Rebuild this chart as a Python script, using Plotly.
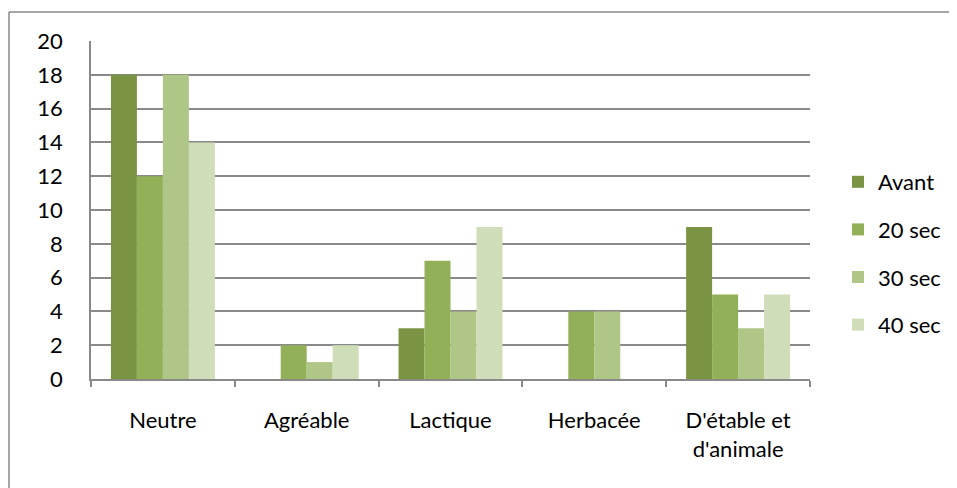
import plotly.graph_objects as go

categories = ["Neutre", "Agréable", "Lactique", "Herbacée", "D'étable et<br>d'animale"]
series_names = ["Avant", "20 sec", "30 sec", "40 sec"]
avant = [18, 0, 3, 0, 9]
sec20 = [12, 2, 7, 4, 5]
sec30 = [18, 1, 4, 4, 3]
sec40 = [14, 2, 9, 0, 5]
y_ticks = [0, 2, 4, 6, 8, 10, 12, 14, 16, 18, 20]

colors = ["#7A9443", "#92B057", "#AFC686", "#CFDDB9"]
values = [avant, sec20, sec30, sec40]

fig = go.Figure()
for i, (name, vals) in enumerate(zip(series_names, values)):
    fig.add_trace(go.Bar(
        x=categories, y=vals, name=name, marker_color=colors[i],
        marker_line_width=0, legendgroup=name,
    ))

# page body has an 8px margin: work in figure coordinates = screen - 8
OFF = 8
L, R, T, B = 91 - OFF, 810 - OFF, 41 - OFF, 379 - OFF
W, H = 957 - OFF, 488 - OFF
fig.update_layout(
    width=W, height=H,
    margin=dict(l=L, r=W - R, t=T, b=H - B, pad=0, autoexpand=False),
    paper_bgcolor="white", plot_bgcolor="white",
    barmode="group", bargap=0.277, bargroupgap=0,
    font=dict(family="Lato, Carlito, Calibri, sans-serif", size=22, color="#000000"),
    legend=dict(
        x=(838 - OFF - L) / (R - L), xanchor="left",
        y=1 - (161 - OFF - T) / (B - T), yanchor="top",
        tracegroupgap=16, font=dict(size=22),
        bgcolor="rgba(0,0,0,0)", itemwidth=30,
    ),
    showlegend=True,
)
fig.update_xaxes(
    showline=True, linecolor="#898989", linewidth=1.5,
    ticks="outside", tickson="boundaries", ticklen=6, tickcolor="#898989", tickwidth=1.5,
    showgrid=False, ticklabelstandoff=21,
)
fig.update_yaxes(
    range=[0, 20], tickvals=y_ticks, ticktext=[str(v) for v in y_ticks],
    showline=True, linecolor="#898989", linewidth=1.5,
    showgrid=True, gridcolor="#898989", gridwidth=1.5,
    zeroline=False, ticks="", ticklabelstandoff=22,
)
# outer chart frame (only left and top edges visible)
x_left = (9 - OFF - L) / (R - L)
y_top = 1 + (T - (12 - OFF)) / (B - T)
fig.add_shape(type="line", xref="paper", yref="paper", x0=x_left, x1=x_left, y0=y_top, y1=-0.5,
              line=dict(color="#898989", width=1.5))
fig.add_shape(type="line", xref="paper", yref="paper", x0=x_left, x1=1.4, y0=y_top, y1=y_top,
              line=dict(color="#898989", width=1.5))

fig.write_html("out.html")
